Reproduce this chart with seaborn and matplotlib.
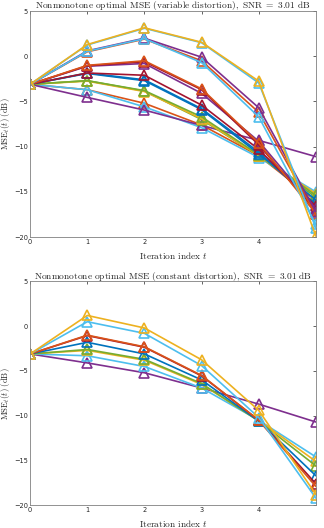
import numpy as np
import matplotlib
matplotlib.use("Agg")
import matplotlib.pyplot as plt
import pandas as pd
import seaborn as sns

# iteration index
t = [0, 1, 2, 3, 4, 5]

# MATLAB default colours
blue = '#0072BD'
orange = '#D95319'
yellow = '#EDB120'
purple = '#7E2F8E'
green = '#77AC30'
lblue = '#4DBEEE'
dred = '#A2142F'

# top panel: variable distortion (dB)
var_yellow1 = [-3.1, 1.3, 3.15, 1.55, -2.75, -19.9]
var_lblue1 = [-3.1, 1.25, 3.1, 1.5, -2.95, -19.0]
var_lblue2 = [-3.1, 0.55, 1.95, -0.7, -6.7, -18.6]
var_purple1 = [-3.1, 0.6, 2.0, -0.1, -5.7, -17.2]
var_orange1 = [-3.1, 0.5, 1.9, -0.5, -6.2, -17.5]
var_orange2 = [-3.1, -1.0, -0.5, -3.6, -9.6, -17.4]
var_dred1 = [-3.1, -1.05, -0.6, -3.7, -9.8, -17.1]
var_purple2 = [-3.1, -1.1, -0.8, -4.1, -9.4, -16.9]
var_dred2 = [-3.1, -1.85, -2.1, -5.4, -10.3, -16.6]
var_blue1 = [-3.1, -1.85, -2.6, -5.8, -10.6, -16.4]
var_blue2 = [-3.1, -1.9, -2.7, -5.9, -10.8, -15.9]
var_green1 = [-3.1, -2.7, -3.8, -6.7, -10.9, -15.4]
var_yellow2 = [-3.1, -2.75, -3.9, -6.9, -11.0, -15.2]
var_green2 = [-3.1, -2.7, -3.85, -7.0, -11.0, -15.6]
var_orange3 = [-3.1, -3.7, -5.2, -7.6, -11.0, -16.0]
var_lblue3 = [-3.1, -3.7, -5.6, -7.9, -11.2, -15.0]
var_purple3 = [-3.1, -4.55, -5.95, -7.65, -9.3, -11.1]

# bottom panel: constant distortion (dB)
con_yellow1 = [-3.1, 1.2, -0.2, -3.75, -9.4, -18.8]
con_lblue1 = [-3.1, 0.5, -0.8, -4.4, -10.2, -19.2]
con_orange = [-3.1, -1.0, -2.3, -5.5, -10.5, -17.9]
con_dred = [-3.1, -1.05, -2.35, -5.55, -10.5, -17.6]
con_blue = [-3.1, -1.8, -3.1, -6.0, -10.6, -16.7]
con_green = [-3.1, -2.6, -3.7, -6.4, -10.6, -15.6]
con_yellow2 = [-3.1, -2.7, -3.8, -6.5, -10.5, -15.1]
con_lblue2 = [-3.1, -3.3, -4.5, -6.9, -10.5, -14.6]
con_purple = [-3.1, -4.1, -5.2, -6.9, -8.7, -10.7]

top_series = [
    (var_orange3, orange), (var_lblue3, lblue), (var_purple3, purple),
    (var_green2, green), (var_yellow2, yellow), (var_green1, green),
    (var_blue2, blue), (var_blue1, blue), (var_dred2, dred),
    (var_purple2, purple), (var_dred1, dred), (var_orange2, orange),
    (var_orange1, orange), (var_purple1, purple), (var_lblue2, lblue),
    (var_lblue1, lblue), (var_yellow1, yellow),
]
bottom_series = [
    (con_purple, purple), (con_lblue2, lblue), (con_yellow2, yellow),
    (con_green, green), (con_blue, blue), (con_dred, dred),
    (con_orange, orange), (con_lblue1, lblue), (con_yellow1, yellow),
]

titles = ['Nonmonotone optimal MSE (variable distortion), SNR = 3.01 dB',
          'Nonmonotone optimal MSE (constant distortion), SNR = 3.01 dB']

sns.set_style('white')
plt.rcParams['font.family'] = ['DejaVu Sans']
plt.rcParams['mathtext.fontset'] = 'cm'

fig = plt.figure(figsize=(3.24, 5.28), dpi=100)
ax_top = fig.add_axes([0.093, 0.551, 0.882, 0.428])
ax_bot = fig.add_axes([0.093, 0.043, 0.882, 0.424])


def cm(s):
    # render plain text in computer modern via mathtext
    return '$\\mathrm{' + s.replace(' ', '\\ ') + '}$'


for ax, series, title in [(ax_top, top_series, titles[0]), (ax_bot, bottom_series, titles[1])]:
    for vals, c in series:
        df = pd.DataFrame({'t': t, 'mse': vals})
        sns.lineplot(data=df, x='t', y='mse', ax=ax, color=c, lw=1.2,
                     marker='^', markersize=6.5, mfc='none', mec=c, mew=1.2)
    ax.set_xlim(0, 5)
    ax.set_ylim(-20, 5)
    ax.set_xticks([0, 1, 2, 3, 4])
    ax.set_yticks([5, 0, -5, -10, -15, -20])
    ax.tick_params(direction='in', length=2.5, width=0.5, labelsize=4.8,
                   colors='#262626', top=True, right=True, pad=1.5)
    for sp in ax.spines.values():
        sp.set_color('#808080')
        sp.set_linewidth(0.6)
    ax.set_title(cm(title), fontsize=6.8, pad=2, color='#262626')
    ax.set_xlabel('$\\mathrm{Iteration\\ index}\\ t$', fontsize=6.8, color='#262626')
    ax.set_ylabel('$\\mathrm{MSE}_t(t)\\ \\mathrm{(dB)}$', fontsize=6.2, color='#262626')
    ax.yaxis.set_label_coords(-0.064, 0.5)
    ax.xaxis.set_label_coords(0.5, -0.055)

fig.savefig('out.png', dpi=100)
